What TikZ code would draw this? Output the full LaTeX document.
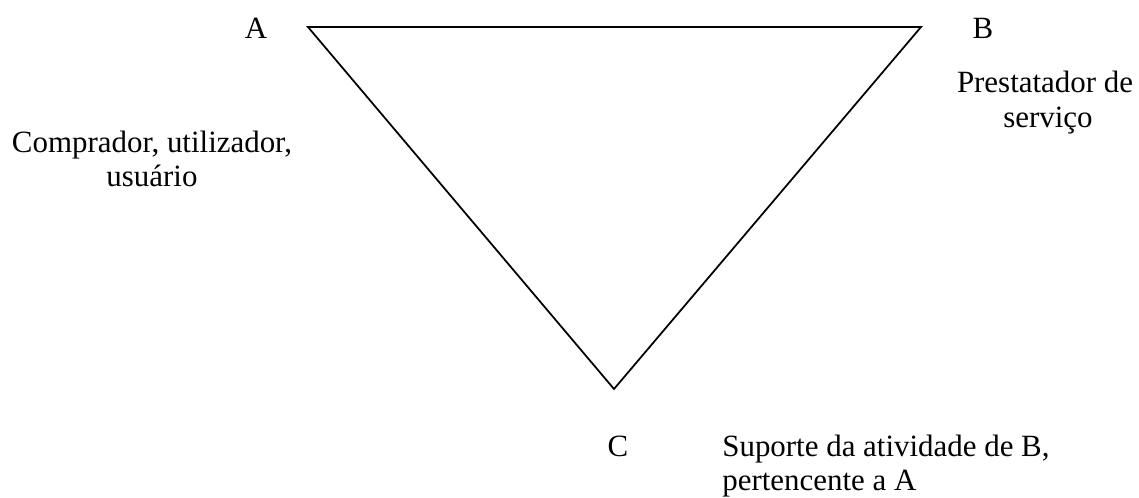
\documentclass[tikz,border=0pt]{standalone}
\usepackage{fontspec}
\setmainfont{Liberation Serif}
\begin{document}
\begin{tikzpicture}[x=0.02cm,y=-0.02cm,
  lbl/.style={inner sep=0pt,anchor=base,font=\fontsize{17.6}{21}\selectfont},
  edge/.style={draw=black,line width=1pt,line join=miter}]
\useasboundingbox (0,0) rectangle (1139,497);
\coordinate (pa) at (308,27);
\coordinate (pb) at (921,27);
\coordinate (pc) at (614,389);
\draw[edge] (pa) -- (pb) -- (pc) -- cycle;
\node[lbl] (la) at (256,38) {A};
\node[lbl] (lb) at (983,38) {B};
\node[lbl] (lc) at (618,456) {C};
\node[lbl] (b1) at (1045,92) {Prestatador de};
\node[lbl] (b2) at (1048,127) {serviço};
\node[lbl] (a1) at (152,152) {Comprador, utilizador,};
\node[lbl] (a2) at (152,186) {usuário};
\node[lbl,anchor=base west] (c1) at (722,456) {Suporte da atividade de B,};
\node[lbl,anchor=base west] (c2) at (722,490) {pertencente a A};
\end{tikzpicture}
\end{document}
